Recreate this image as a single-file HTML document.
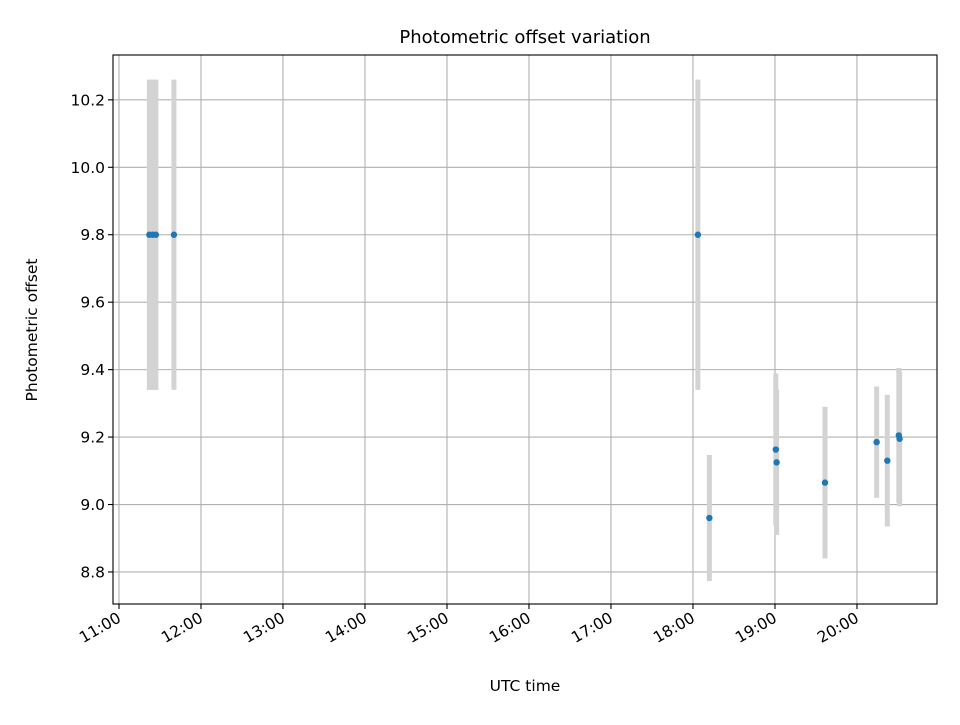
<!DOCTYPE html>
<html><head><meta charset="utf-8"><style>
body{margin:0;background:#fff}
svg text{font-family:"DejaVu Sans","Liberation Sans",sans-serif;fill:#000}
</style></head><body>
<svg id="chart" width="960" height="720" xmlns="http://www.w3.org/2000/svg">
<rect width="960" height="720" fill="#fff"/>
<text x="525" y="43" text-anchor="middle" font-size="18">Photometric offset variation</text>
<g id="grid"></g>
<g id="errs"></g>
<g id="pts"></g>
<rect x="113" y="55" width="824" height="549" fill="none" stroke="#000" stroke-width="1.1"/>
<g id="xt"></g>
<g id="yt"></g>
<text x="525" y="691" text-anchor="middle" font-size="15.5">UTC time</text>
<text transform="translate(37,330) rotate(-90)" text-anchor="middle" font-size="15.5">Photometric offset</text>
</svg>
<script>
// hours after 11:00 UTC
const times=[0.37,0.41,0.45,0.67,7.06,7.2,8.01,8.02,8.61,9.24,9.37,9.51,9.52];
const offsets=[9.8,9.8,9.8,9.8,9.8,8.96,9.163,9.125,9.065,9.185,9.13,9.205,9.195];
const errors=[0.46,0.46,0.46,0.46,0.46,0.187,0.226,0.215,0.225,0.165,0.195,0.2,0.2];
const xTickLabels=["11:00","12:00","13:00","14:00","15:00","16:00","17:00","18:00","19:00","20:00"];
const yTickVals=[8.8,9.0,9.2,9.4,9.6,9.8,10.0,10.2];
const X0=113,X1=937,Y0=55,Y1=604;
const xMin=-0.073,xMax=9.976,yMin=8.705,yMax=10.333;
const sx=v=>X0+(v-xMin)/(xMax-xMin)*(X1-X0);
const sy=v=>Y1-(v-yMin)/(yMax-yMin)*(Y1-Y0);
const NS="http://www.w3.org/2000/svg";
const mk=(t,a,p)=>{const e=document.createElementNS(NS,t);for(const k in a)e.setAttribute(k,a[k]);p.appendChild(e);return e;};
const grid=document.getElementById('grid'),xt=document.getElementById('xt'),yt=document.getElementById('yt');
xTickLabels.forEach((lab,i)=>{
 const x=sx(i);
 const g=mk('line',{x1:x,x2:x,y1:Y0,y2:Y1,stroke:'#b0b0b0','stroke-width':1.1},grid);
 
 
 const t=mk('line',{x1:x,x2:x,y1:Y1,y2:Y1+5,stroke:'#000','stroke-width':1.1},xt);
 
 
 const tx=mk('text',{transform:`translate(${x+3},${Y1+17}) rotate(-30)`,'text-anchor':'end','font-size':15.5},xt);
 
 
 tx.textContent=lab;
});
yTickVals.forEach(v=>{
 const y=sy(v);
 const g=mk('line',{x1:X0,x2:X1,y1:y,y2:y,stroke:'#b0b0b0','stroke-width':1.1},grid);
 
 
 const t=mk('line',{x1:X0-5,x2:X0,y1:y,y2:y,stroke:'#000','stroke-width':1.1},yt);
 
 
 const tx=mk('text',{x:X0-8,y:y+5.5,'text-anchor':'end','font-size':15.5},yt);
 
 
 tx.textContent=v.toFixed(1);
});
const errs=document.getElementById('errs'),pts=document.getElementById('pts');
times.forEach((t,i)=>{
 const x=sx(t);
 const e=mk('line',{x1:x,x2:x,y1:sy(offsets[i]+errors[i]),y2:sy(offsets[i]-errors[i]),stroke:'#d3d3d3','stroke-width':5},errs);
 
 
});
times.forEach((t,i)=>{
 const c=mk('circle',{cx:sx(t),cy:sy(offsets[i]),r:3.2,fill:'#1f77b4'},pts);
 
 
});
</script>
</body></html>
